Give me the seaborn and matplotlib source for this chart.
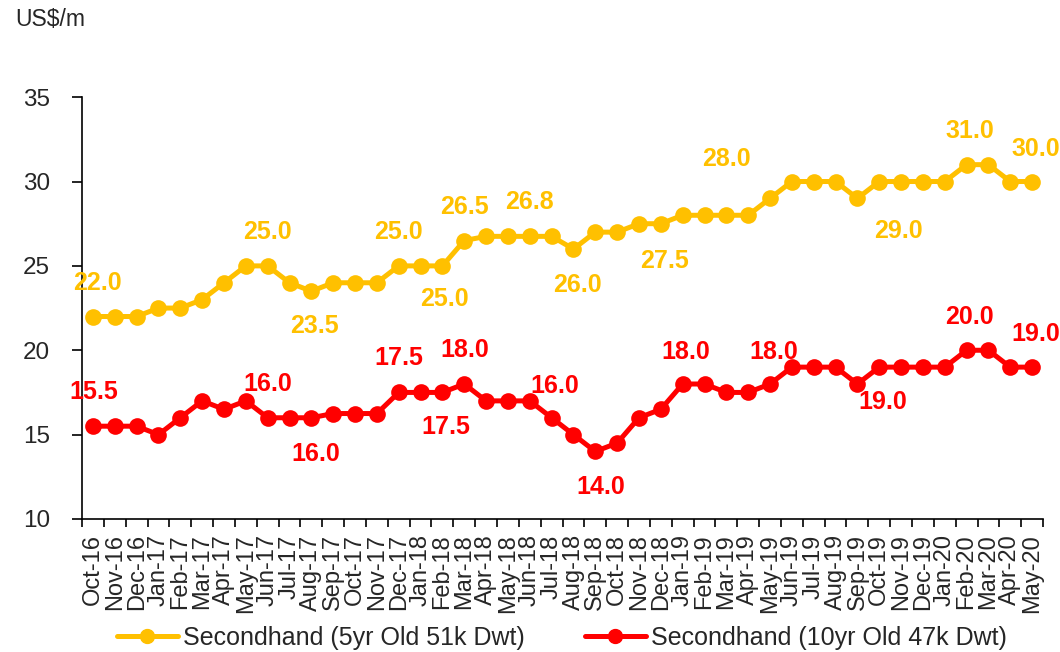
import numpy as np
import pandas as pd
import matplotlib
matplotlib.use("Agg")
import matplotlib.pyplot as plt
import seaborn as sns
from matplotlib.lines import Line2D

# months Oct-16 .. May-20
months = ["Oct-16", "Nov-16", "Dec-16",
          "Jan-17", "Feb-17", "Mar-17", "Apr-17", "May-17", "Jun-17",
          "Jul-17", "Aug-17", "Sep-17", "Oct-17", "Nov-17", "Dec-17",
          "Jan-18", "Feb-18", "Mar-18", "Apr-18", "May-18", "Jun-18",
          "Jul-18", "Aug-18", "Sep-18", "Oct-18", "Nov-18", "Dec-18",
          "Jan-19", "Feb-19", "Mar-19", "Apr-19", "May-19", "Jun-19",
          "Jul-19", "Aug-19", "Sep-19", "Oct-19", "Nov-19", "Dec-19",
          "Jan-20", "Feb-20", "Mar-20", "Apr-20", "May-20"]

five_yr = [22, 22, 22, 22.5, 22.5, 23, 24, 25, 25, 24, 23.5, 24, 24, 24, 25,
           25, 25, 26.5, 26.75, 26.75, 26.75, 26.75, 26, 27, 27, 27.5, 27.5,
           28, 28, 28, 28, 29, 30, 30, 30, 29, 30, 30, 30, 30, 31, 31, 30, 30]

ten_yr = [15.5, 15.5, 15.5, 15, 16, 17, 16.5, 17, 16, 16, 16, 16.25, 16.25, 16.25, 17.5,
          17.5, 17.5, 18, 17, 17, 17, 16, 15, 14, 14.5, 16, 16.5,
          18, 18, 17.5, 17.5, 18, 19, 19, 19, 18, 19, 19, 19, 19, 20, 20, 19, 19]

series_names = ["Secondhand (5yr Old 51k Dwt)", "Secondhand (10yr Old 47k Dwt)"]

# data labels: month index, text
five_lbl_idx = [0, 8, 10, 14, 16, 17, 20, 22, 26, 29, 36, 40, 43]
five_lbl_txt = ["22.0", "25.0", "23.5", "25.0", "25.0", "26.5", "26.8", "26.0",
                "27.5", "28.0", "29.0", "31.0", "30.0"]
ten_lbl_idx = [0, 8, 10, 14, 16, 17, 21, 23, 27, 31, 36, 40, 43]
ten_lbl_txt = ["15.5", "16.0", "16.0", "17.5", "17.5", "18.0", "16.0", "14.0",
               "18.0", "18.0", "19.0", "20.0", "19.0"]

YELLOW = "#FFC000"
RED = "#FF0000"

sns.set_style("white")
plt.rcParams["font.family"] = ["Liberation Sans", "DejaVu Sans"]

df = pd.DataFrame({"x": np.arange(len(months)), "five": five_yr, "ten": ten_yr})

fig = plt.figure(figsize=(10.6, 6.52), dpi=100)
ax = fig.add_axes([0.0774, 0.204, 0.9066, 0.647])

sns.lineplot(data=df, x="x", y="five", ax=ax, color=YELLOW, lw=3.6,
             marker="o", markersize=12, markeredgewidth=0)
sns.lineplot(data=df, x="x", y="ten", ax=ax, color=RED, lw=3.6,
             marker="o", markersize=12, markeredgewidth=0)

px = 72 / 100  # pixel -> points


def put_labels(vals, idxs, txts, color, offsets):
    for i, t in zip(idxs, txts):
        dx, dy = offsets.get(i, (0, 34))
        ax.annotate(t, (i, vals[i]), xytext=(dx * px, dy * px),
                    textcoords="offset points", ha="center", va="center",
                    color=color, fontsize=18, fontweight="bold",
                    annotation_clip=False)


put_labels(five_yr, five_lbl_idx, five_lbl_txt, YELLOW,
           {0: (4, 34), 10: (3, -35), 16: (2, -33), 22: (4, -36), 26: (4, -37),
            29: (0, 56), 36: (19, -49), 40: (3, 34), 43: (4, 33)})
put_labels(ten_yr, ten_lbl_idx, ten_lbl_txt, RED,
           {0: (1, 34), 10: (4, -36), 16: (3, -35), 21: (3, 32), 23: (5, -36),
            27: (3, 32), 31: (4, 32), 36: (4, -35), 40: (3, 33), 43: (4, 33)})

ax.set_xlim(-0.5, len(months) - 0.5)
ax.set_ylim(10, 35)
ax.set_yticks(range(10, 36, 5))
ax.set_xticks(np.arange(len(months)))
ax.set_xticklabels(months, rotation=90)
ax.set_xticks(np.arange(len(months) + 1) - 0.5, minor=True)
ax.tick_params(axis="x", which="major", length=0, pad=11, labelsize=17)
ax.tick_params(axis="x", which="minor", length=6, width=1.2, color="black",
               direction="out", bottom=True)
ax.tick_params(axis="y", length=7, width=1.2, color="black", direction="out",
               left=True, labelsize=17.5, pad=16)
ax.set_xlabel("")
ax.set_ylabel("")
for s in ["top", "right"]:
    ax.spines[s].set_visible(False)
for s in ["left", "bottom"]:
    ax.spines[s].set_color("black")
    ax.spines[s].set_linewidth(1.2)
ax.grid(False)

fig.text(15 / 1060, 1 - 20 / 652, "US$/m", fontsize=16.5, ha="left", va="center")

handles = [Line2D([], [], color=YELLOW, lw=3.6, marker="o", markersize=10),
           Line2D([], [], color=RED, lw=3.6, marker="o", markersize=10)]
fig.legend(handles, series_names, ncol=2, loc="center",
           bbox_to_anchor=(0.53, 14 / 652), frameon=False, fontsize=18,
           handlelength=2.45, handletextpad=0.2, columnspacing=2.4,
           borderpad=0, borderaxespad=0)

fig.savefig("out.png", dpi=100)
